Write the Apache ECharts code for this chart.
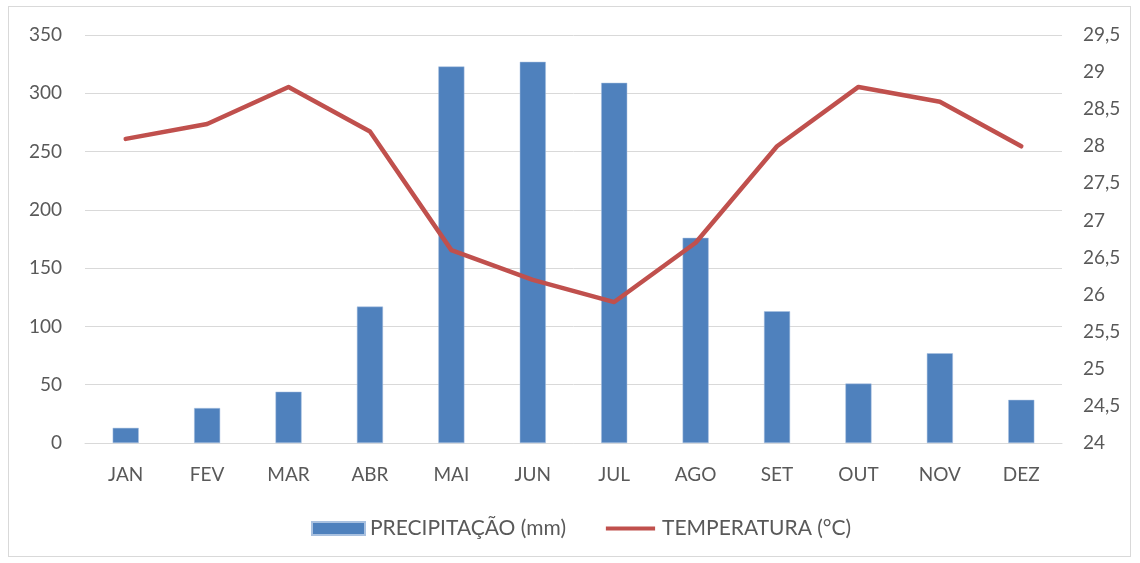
<!DOCTYPE html>
<html><head><meta charset="utf-8">
<script src="https://cdn.jsdelivr.net/npm/echarts@6/dist/echarts.min.js"></script>
<style>
html,body{margin:0;padding:0;background:#fff;}
#frame{position:absolute;left:8px;top:6px;width:1123px;height:551px;border:1px solid #d9d9d9;box-sizing:border-box;}
#c{position:absolute;left:0;top:0;width:1140px;height:563px;}
</style></head>
<body><div id="frame"></div><div id="c"></div>
<script>
const categories = ['JAN','FEV','MAR','ABR','MAI','JUN','JUL','AGO','SET','OUT','NOV','DEZ'];
const precipitacao = [13, 30, 44, 117, 323, 327, 309, 176, 113, 51, 77, 37];
const temperatura = [28.1, 28.3, 28.8, 28.2, 26.6, 26.2, 25.9, 26.7, 28.0, 28.8, 28.6, 28.0];
const leftTicks = [0, 50, 100, 150, 200, 250, 300, 350];
const rightTicks = ['24','24,5','25','25,5','26','26,5','27','27,5','28','28,5','29','29,5'];

const FONT = 'Lato, "Open Sans", sans-serif';
const TXT = '#595959';
const FS = 19;
const chart = echarts.init(document.getElementById('c'), null, {renderer:'canvas'});
chart.setOption({
  animation:false,
  backgroundColor:'transparent',
  textStyle:{fontFamily:FONT},
  grid:{left:85, right:78, top:35, bottom:120, containLabel:false},
  legend:{
    bottom:19, left:306, itemGap:38, itemWidth:53, itemHeight:13,
    textStyle:{color:TXT, fontSize:21, fontFamily:FONT},
    data:[
      {name:'PRECIPITAÇÃO (mm)', icon:'rect'},
      {name:'TEMPERATURA (°C)', icon:'path://M0,0M56,13M2,4.5L54,4.5L54,8.5L2,8.5Z', itemStyle:{color:'#c0504d'}}
    ]
  },
  xAxis:{
    type:'category', data:categories,
    axisLine:{show:true, lineStyle:{color:'#d9d9d9', width:1}},
    axisTick:{show:false},
    axisLabel:{color:TXT, fontSize:FS, margin:22, fontFamily:FONT}
  },
  yAxis:[
    {type:'value', min:0, max:350, interval:50,
     axisLine:{show:false}, axisTick:{show:false},
     splitLine:{lineStyle:{color:'#d9d9d9', width:1}},
     axisLabel:{color:TXT, fontSize:FS, margin:23, fontFamily:FONT,
       formatter:v=>String(leftTicks[Math.round(v/50)])}},
    {type:'value', min:24, max:29.5, interval:0.5,
     axisLine:{show:false}, axisTick:{show:false}, splitLine:{show:false},
     axisLabel:{color:TXT, fontSize:FS, margin:21, align:'left', fontFamily:FONT,
       formatter:v=>rightTicks[Math.round((v-24)/0.5)]}}
  ],
  series:[
    {name:'PRECIPITAÇÃO (mm)', type:'bar', data:precipitacao, yAxisIndex:0,
     barWidth:'32%', itemStyle:{color:'#4f81bd', borderColor:'#a9c1e0', borderWidth:0.5}},
    {name:'TEMPERATURA (°C)', type:'line', data:temperatura, yAxisIndex:1,
     symbol:'none', lineStyle:{color:'#c0504d', width:4.5, cap:'round', join:'round'},
     itemStyle:{color:'#c0504d'}}
  ]
});
</script></body></html>
